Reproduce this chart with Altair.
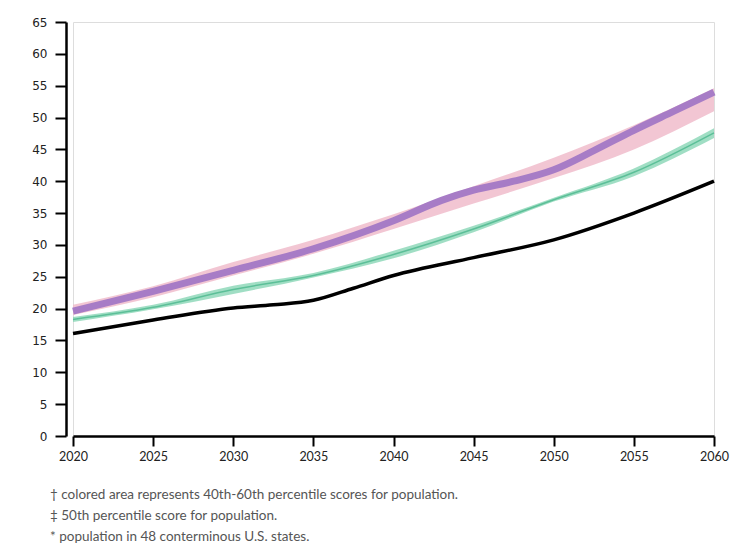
import altair as alt
import pandas as pd

# ---- data ----
band_years = [2020, 2025, 2030, 2035, 2040, 2045, 2050, 2055, 2060]
pink_low = [19.0, 21.8, 25.2, 28.6, 32.5, 36.5, 40.5, 45.0, 51.0]
pink_high = [20.6, 23.5, 27.3, 30.8, 34.8, 39.2, 43.7, 48.8, 54.6]
green_low = [17.9, 19.9, 22.3, 24.9, 27.9, 32.0, 36.8, 40.8, 46.8]
green_high = [18.7, 20.6, 23.6, 25.6, 29.1, 33.0, 37.4, 42.0, 48.3]
green_mid = [18.3, 20.2, 23.0, 25.2, 28.5, 32.5, 37.1, 41.4, 47.6]

purple_years = [2020, 2025, 2030, 2035, 2040, 2043, 2045, 2047.5, 2050, 2052.5, 2055, 2057.5, 2060]
purple_mid = [19.6, 22.7, 26.0, 29.4, 33.8, 37.0, 38.6, 40.0, 41.8, 44.8, 48.0, 51.0, 54.0]

black_years = [2020, 2025, 2030, 2032.5, 2035, 2037.5, 2040, 2045, 2050, 2055, 2060]
black_vals = [16.1, 18.2, 20.1, 20.6, 21.3, 23.2, 25.2, 28.0, 30.8, 35.0, 40.0]

x_ticks = [2020, 2025, 2030, 2035, 2040, 2045, 2050, 2055, 2060]
y_ticks = [0, 5, 10, 15, 20, 25, 30, 35, 40, 45, 50, 55, 60, 65]

footnotes = [
    "\u2020 colored area represents 40th-60th percentile scores for population.",
    "\u2021 50th percentile score for population.",
    "* population in 48 conterminous U.S. states.",
]

bands = pd.DataFrame({
    "year": band_years,
    "pink_low": pink_low, "pink_high": pink_high,
    "green_low": green_low, "green_high": green_high, "green_mid": green_mid,
})
purple = pd.DataFrame({"year": purple_years, "value": purple_mid})
black = pd.DataFrame({"year": black_years, "value": black_vals})

xscale = alt.Scale(domain=[2020, 2060], nice=False, zero=False)
yscale = alt.Scale(domain=[0, 65], nice=False)

xaxis = alt.Axis(
    values=x_ticks, format="d", title=None, grid=False, labelFlush=False,
    domainColor="black", domainWidth=2.5, tickColor="black", tickWidth=2, tickSize=10,
    labelFont="Lato", labelFontSize=12.5, labelColor="#222", labelPadding=4,
)
yaxis = alt.Axis(
    values=y_ticks, title=None, grid=False, offset=7, labelFlush=False,
    domainColor="black", domainWidth=2.5, tickColor="black", tickWidth=2, tickSize=11,
    labelFont="DejaVu Sans", labelFontSize=12, labelColor="#222", labelPadding=8,
)


def X():
    return alt.X("year:Q", scale=xscale, axis=xaxis)


def Y(field):
    return alt.Y(field, scale=yscale, axis=yaxis)


pink_area = alt.Chart(bands).mark_area(color="#f0bccb", opacity=0.85, interpolate="monotone").encode(
    x=X(), y=Y("pink_low:Q"), y2="pink_high:Q"
)
purple_line = alt.Chart(purple).mark_line(color="#a77cc6", strokeWidth=7, interpolate="monotone", strokeCap="butt").encode(
    x=X(), y=Y("value:Q")
)
green_area = alt.Chart(bands).mark_area(color="#8fd8ba", opacity=0.85, interpolate="monotone").encode(
    x=X(), y=Y("green_low:Q"), y2="green_high:Q"
)
green_line = alt.Chart(bands).mark_line(color="#5cbf98", strokeWidth=1.5, interpolate="monotone").encode(
    x=X(), y=Y("green_mid:Q")
)
black_line = alt.Chart(black).mark_line(color="black", strokeWidth=3.5, interpolate="monotone", strokeCap="butt").encode(
    x=X(), y=Y("value:Q")
)

chart = alt.layer(pink_area, purple_line, green_area, green_line, black_line).properties(
    width=641, height=414,
    autosize=alt.AutoSizeParams(type="none"),
    padding={"left": 65, "top": 14, "right": 24, "bottom": 108},
    title=alt.TitleParams(
        text=footnotes, orient="bottom", anchor="start", frame="group", dx=-23, offset=25,
        font="Lato", fontSize=13.5, fontWeight="normal", color="#555",
        lineHeight=21, baseline="top",
    ),
).configure_view(stroke=None).configure(background="white")

chart.save("out.html", embed_options={"renderer": "svg", "actions": False})
